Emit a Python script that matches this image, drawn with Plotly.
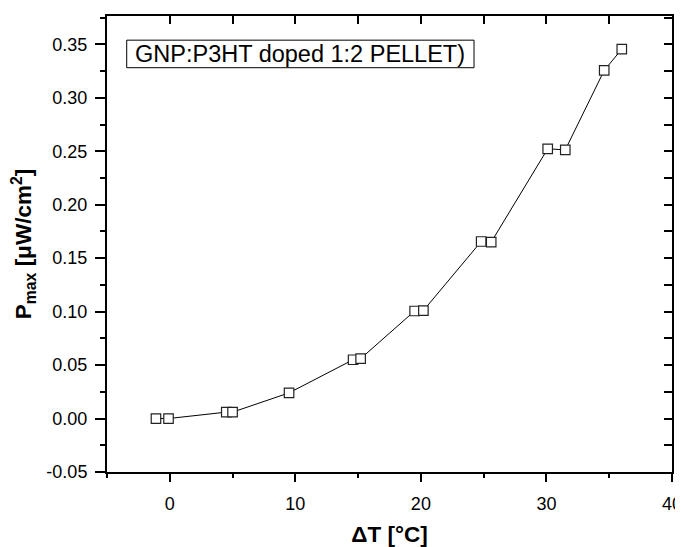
import plotly.graph_objects as go

# delta T [°C] vs P_max [uW/cm^2]
delta_t = [-1.1, -0.1, 4.5, 5.0, 9.5, 14.6, 15.2, 19.5, 20.2, 24.8, 25.6, 30.1, 31.5, 34.6, 36.0]
p_max = [0.0, 0.0, 0.006, 0.006, 0.024, 0.055, 0.056, 0.1006, 0.101, 0.1656, 0.165, 0.2523, 0.2513, 0.3256, 0.3455]

x_range = [-5, 40]
y_range = [-0.05, 0.3765]
y_tickvals = [-0.05, 0.0, 0.05, 0.10, 0.15, 0.20, 0.25, 0.30, 0.35]
y_ticktext = ["-0.05", "0.00", "0.05", "0.10", "0.15", "0.20", "0.25", "0.30", "0.35"]
legend_text = "GNP:P3HT doped 1:2 PELLET)"

FONT = "Liberation Sans, Arial, sans-serif"

fig = go.Figure()
fig.add_trace(go.Scatter(
    x=delta_t,
    y=p_max,
    mode='lines+markers',
    line=dict(color='black', width=1),
    marker=dict(symbol='square', size=9.5, color='white',
                line=dict(color='#222222', width=1.2)),
    showlegend=False,
    hoverinfo='x+y'
))
# invisible copy on the frame axes so that top/right axes get drawn
fig.add_trace(go.Scatter(
    x=delta_t, y=p_max, xaxis='x2', yaxis='y2', mode='markers',
    marker=dict(opacity=0), showlegend=False, hoverinfo='skip'
))

axis_common = dict(showgrid=False, zeroline=False, linecolor='black', linewidth=2,
                   tickcolor='black', tickwidth=1.5, automargin=False)

# page body adds an 8px offset, so the figure is 8px smaller on each side
fig.update_layout(
    width=675,
    height=539,
    margin=dict(l=99, r=11, t=8, b=75),
    plot_bgcolor='white',
    paper_bgcolor='white',
    font=dict(family=FONT, color='black', size=18),
    xaxis=dict(
        range=x_range, dtick=10, tick0=0, ticks='outside', ticklen=8,
        showline=True, ticklabelstandoff=6,
        minor=dict(dtick=5, tick0=0, ticks='outside', ticklen=4, tickcolor='black', tickwidth=1.5),
        title=dict(text='<b>ΔT [°C]</b>', font=dict(size=22.5), standoff=14),
        tickfont=dict(size=18),
        **axis_common
    ),
    yaxis=dict(
        range=y_range, tickvals=y_tickvals, ticktext=y_ticktext, ticks='outside', ticklen=10,
        showline=True, ticklabelstandoff=4,
        minor=dict(dtick=0.025, tick0=0, ticks='outside', ticklen=5, tickcolor='black', tickwidth=1.5),
        title=dict(text='<b>P<sub>max</sub> [μW/cm<sup>2</sup>]</b>', font=dict(size=22.5), standoff=18),
        tickfont=dict(size=18),
        **axis_common
    ),
    # inward ticks on the top and right frame
    xaxis2=dict(
        overlaying='x', anchor='y2', side='top', range=x_range, dtick=10, tick0=0,
        ticks='inside', ticklen=8, showline=True, showticklabels=False,
        minor=dict(dtick=5, tick0=0, ticks='inside', ticklen=8, tickcolor='black', tickwidth=1.5),
        **axis_common
    ),
    yaxis2=dict(
        overlaying='y', anchor='x2', side='right', range=y_range, dtick=0.05, tick0=0,
        ticks='inside', ticklen=8, showline=True, showticklabels=False,
        minor=dict(dtick=0.025, tick0=0, ticks='inside', ticklen=8, tickcolor='black', tickwidth=1.5),
        **axis_common
    ),
    shapes=[dict(type='rect', xref='paper', yref='paper',
                 x0=0.0349, x1=0.6496, y0=0.8866, y1=0.947,
                 line=dict(color='black', width=1), fillcolor='white', layer='above')],
    annotations=[dict(text=legend_text, xref='paper', yref='paper',
                      x=(0.0349 + 0.6496) / 2, y=(0.8866 + 0.947) / 2,
                      xanchor='center', yanchor='middle', showarrow=False,
                      font=dict(size=23.5, family=FONT, color='black'))]
)

fig.write_html("out.html")
